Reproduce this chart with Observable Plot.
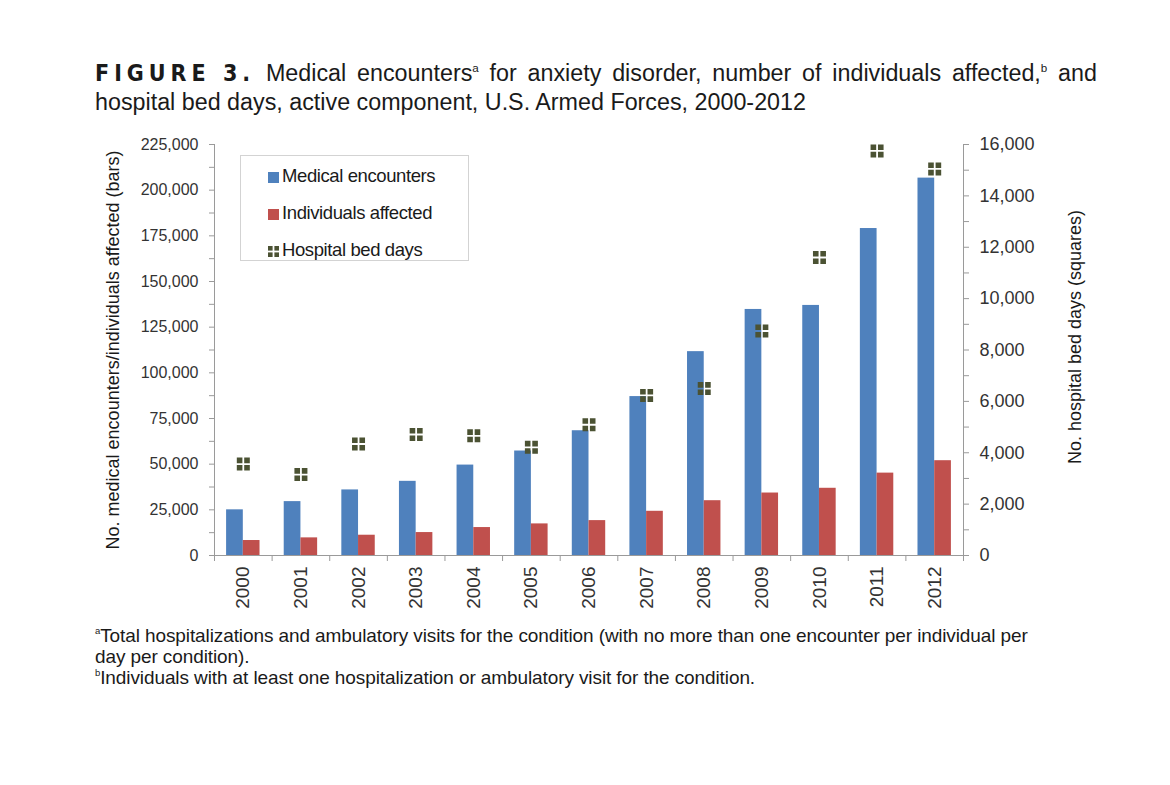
<!DOCTYPE html>
<html><head><meta charset="utf-8">
<script src="https://cdn.jsdelivr.net/npm/d3@7"></script>
<script src="https://cdn.jsdelivr.net/npm/@observablehq/plot@0.6"></script>
<style>
body{margin:0;background:#fff;font-family:"Liberation Sans",Arial,sans-serif;}
#page{position:relative;width:1170px;height:785px;overflow:hidden;background:#fff;}
#title{position:absolute;left:95px;top:59px;font-size:23.3px;line-height:29px;color:#1a1a1a;white-space:nowrap;}
#title .l1{width:1002px;text-align:justify;text-align-last:justify;}
#title .fig{display:inline-block;font-family:"Liberation Sans Narrow","DejaVu Sans Condensed",sans-serif;font-weight:bold;letter-spacing:5px;font-size:23px;}
sup{font-size:0.5em;vertical-align:0.8em;line-height:0;}
#chart{position:absolute;left:0;top:130px;}
#legend{position:absolute;left:240px;top:155px;width:227px;height:104px;border:1px solid #d3d3d3;background:#fff;}
#legend .row{position:absolute;left:27px;font-size:18.5px;letter-spacing:-0.4px;color:#1a1a1a;white-space:nowrap;height:22px;line-height:22px;}
#legend .sw{display:inline-block;width:11px;height:11px;margin-right:3px;vertical-align:-0.5px;}
#notes{position:absolute;left:95px;top:625px;font-size:19px;line-height:21px;color:#1a1a1a;letter-spacing:-0.1px;white-space:nowrap;}
#notes .l1{width:932px;text-align:justify;text-align-last:justify;}
</style></head>
<body><div id="page">
<div id="title"><div class="l1"><span class="fig">FIGURE 3.</span> Medical encounters<sup>a</sup> for anxiety disorder, number of individuals affected,<sup>b</sup> and</div><div>hospital bed days, active component, U.S. Armed Forces, 2000-2012</div></div>
<div id="chart"></div>
<div id="legend"></div>
<div id="notes"><div class="l1"><sup>a</sup>Total hospitalizations and ambulatory visits for the condition (with no more than one encounter per individual per</div><div>day per condition).</div><div><sup>b</sup>Individuals with at least one hospitalization or ambulatory visit for the condition.</div></div>
</div>
<script>
const years = [2000, 2001, 2002, 2003, 2004, 2005, 2006, 2007, 2008, 2009, 2010, 2011, 2012];
const encounters = [25000, 29500, 35900, 40600, 49500, 57200, 68300, 87000, 111600, 134700, 136900, 179000, 206600];
const individuals = [8200, 9650, 11100, 12560, 15300, 17300, 19100, 24200, 30000, 34200, 36800, 45100, 51900];
const bedDays = [3560, 3150, 4340, 4710, 4660, 4210, 5090, 6230, 6500, 8740, 11600, 15750, 15050];

const leftMajor = [0, 25000, 50000, 75000, 100000, 125000, 150000, 175000, 200000, 225000];
const leftMinor = [12500, 37500, 62500, 87500, 112500, 137500, 162500, 187500, 212500];
const rightMajor = [0, 2000, 4000, 6000, 8000, 10000, 12000, 14000, 16000];
const rightMinor = [1000, 3000, 5000, 7000, 9000, 11000, 13000, 15000];
const separators = [1999.5, 2000.5, 2001.5, 2002.5, 2003.5, 2004.5, 2005.5, 2006.5, 2007.5, 2008.5, 2009.5, 2010.5, 2011.5, 2012.5];

const seriesNames = ["Medical encounters", "Individuals affected", "Hospital bed days"];
const seriesColors = ["#4f81bd", "#c0504d", "#4b5233"];
const leftLabel = "No. medical encounters/individuals affected (bars)";
const rightLabel = "No. hospital bed days (squares)";

const leftMax = 225000, rightMax = 16000;
const ratio = leftMax / rightMax;
const fmt = d3.format(",");
const table = years.map((year, i) => ({year, enc: encounters[i], ind: individuals[i], bed: bedDays[i]}));

const quad = {
  draw(ctx) {
    const s = 5.6, g = 1.8;
    for (const [a, b] of [[-g/2 - s, -g/2 - s], [g/2, -g/2 - s], [-g/2 - s, g/2], [g/2, g/2]]) ctx.rect(a, b, s, s);
  }
};

const axisGray = "#9a9a9a";
const textCol = "#333";
const plot = Plot.plot({
  width: 1170, height: 500,
  marginTop: 14, marginBottom: 75, marginLeft: 214, marginRight: 207,
  x: {type: "linear", domain: [1999.5, 2012.5]},
  y: {domain: [0, leftMax]},
  style: {fontFamily: "'Liberation Sans', Arial, sans-serif", background: "transparent"},
  marks: [
    Plot.rectY(table, {x1: d => d.year - 0.29, x2: "year", y: "enc", fill: seriesColors[0]}),
    Plot.rectY(table, {x1: "year", x2: d => d.year + 0.29, y: "ind", fill: seriesColors[1]}),
    Plot.dot(table, {x: "year", y: d => d.bed * ratio, symbol: quad, fill: seriesColors[2], stroke: "none"}),
    Plot.ruleY([0], {stroke: axisGray}),
    Plot.ruleX([separators[0]], {stroke: axisGray}),
    Plot.ruleX([separators[separators.length - 1]], {stroke: axisGray}),
    Plot.axisY({anchor: "left", ticks: [...leftMajor, ...leftMinor], tickFormat: d => leftMajor.includes(d) ? fmt(d) : "",
      tickSize: 5, tickPadding: 11, fontSize: 16, stroke: axisGray, fill: textCol, label: null}),
    Plot.axisY({anchor: "right", ticks: [...rightMajor, ...rightMinor].map(v => v * ratio),
      tickFormat: d => { const v = Math.round(d / ratio); return rightMajor.includes(v) ? fmt(v) : ""; },
      tickSize: 5, tickPadding: 11, fontSize: 18, stroke: axisGray, fill: textCol, label: null}),
    Plot.text([leftLabel], {frameAnchor: "left", textAnchor: "middle", lineAnchor: "middle", rotate: -90, dx: -101, fontSize: 18, fill: "#1a1a1a"}),
    Plot.text([rightLabel], {frameAnchor: "right", textAnchor: "middle", lineAnchor: "middle", rotate: -90, dx: 112, dy: -13, fontSize: 18, fill: "#1a1a1a"}),
    Plot.axisX({ticks: separators, tickSize: 6, tickFormat: () => "", stroke: axisGray, label: null}),
    Plot.axisX({ticks: years, tickSize: 0, tickPadding: 11, tickRotate: -90, fontSize: 19, fill: textCol, tickFormat: d => String(d), label: null})
  ]
});
document.getElementById("chart").appendChild(plot);

const legend = document.getElementById("legend");
seriesNames.forEach((name, i) => {
  const row = document.createElement("div");
  row.className = "row";
  row.style.top = (9 + i * 37) + "px";
  let sw;
  if (i < 2) sw = `<span class="sw" style="background:${seriesColors[i]}"></span>`;
  else sw = `<svg width="11" height="11" style="margin-right:3px;vertical-align:-0.5px"><rect x="0" y="0" width="4.6" height="4.6" fill="${seriesColors[i]}"/><rect x="6.4" y="0" width="4.6" height="4.6" fill="${seriesColors[i]}"/><rect x="0" y="6.4" width="4.6" height="4.6" fill="${seriesColors[i]}"/><rect x="6.4" y="6.4" width="4.6" height="4.6" fill="${seriesColors[i]}"/></svg>`;
  row.innerHTML = sw + name;
  legend.appendChild(row);
});
</script>
</body></html>
